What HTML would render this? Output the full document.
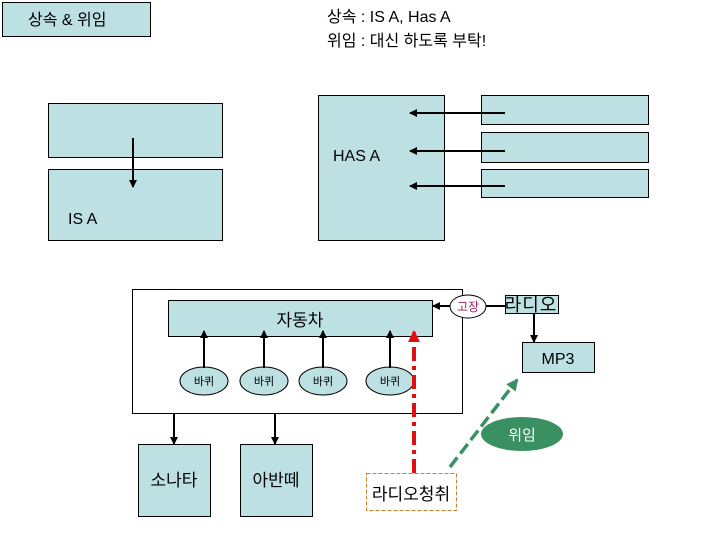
<!DOCTYPE html>
<html><head><meta charset="utf-8"><style>
html,body{margin:0;padding:0;background:#fff;}
svg{display:block;}
text{font-family:"Liberation Sans","Noto Sans CJK KR",sans-serif;}
</style></head><body>
<svg width="720" height="540" viewBox="0 0 720 540" xmlns="http://www.w3.org/2000/svg">
<defs>
<marker id="ah" markerWidth="8" markerHeight="8" refX="7" refY="4" orient="auto" markerUnits="userSpaceOnUse"><path d="M0,0 L8,4 L0,8 z" fill="#000"/></marker>
<marker id="ahr" markerWidth="12" markerHeight="12" refX="10" refY="6" orient="auto" markerUnits="userSpaceOnUse"><path d="M0,0 L12,6 L0,12 z" fill="#e01010"/></marker>
<marker id="ahg" markerWidth="12" markerHeight="12" refX="10" refY="6" orient="auto" markerUnits="userSpaceOnUse"><path d="M0,0 L12,6 L0,12 z" fill="#3a9060"/></marker>
</defs>
<g fill="#bde0e3" stroke="#000" stroke-width="1">
<rect x="2.5" y="2.5" width="148" height="34"/>
<rect x="48.5" y="103.5" width="174" height="54"/>
<rect x="48.5" y="169.5" width="174" height="71"/>
<rect x="318.5" y="95.5" width="126" height="145"/>
<rect x="481.5" y="95.5" width="167" height="29"/>
<rect x="481.5" y="132.5" width="167" height="30"/>
<rect x="481.5" y="169.5" width="167" height="28"/>
</g>
<g font-size="16" fill="#000">
<text x="28" y="25">상속 &amp; 위임</text>
<text x="327" y="22">상속 :  IS A, Has A</text>
<text x="327" y="46">위임 : 대신 하도록 부탁!</text>
<text x="68" y="224">IS A</text>
<text x="333" y="161">HAS A</text>
</g>
<g stroke="#000" stroke-width="2" fill="none" marker-end="url(#ah)">
<line x1="133" y1="138" x2="133" y2="187"/>
<line x1="505" y1="113" x2="410" y2="113"/>
<line x1="505" y1="151" x2="410" y2="151"/>
<line x1="505" y1="186" x2="410" y2="186"/>
</g>
<rect x="132.5" y="289.5" width="330" height="124" fill="#fff" stroke="#000"/>
<rect x="168.5" y="300.5" width="264" height="36" fill="#bde0e3" stroke="#000"/>
<text x="300" y="326" font-size="17" text-anchor="middle">자동차</text>
<g fill="#bde0e3" stroke="#000">
<ellipse cx="204" cy="381" rx="24" ry="14"/>
<ellipse cx="264" cy="381" rx="24" ry="14"/>
<ellipse cx="323" cy="381" rx="24" ry="14"/>
<ellipse cx="390" cy="381" rx="24" ry="14"/>
</g>
<g font-size="11" text-anchor="middle">
<text x="204" y="385">바퀴</text><text x="264" y="385">바퀴</text><text x="323" y="385">바퀴</text><text x="390" y="385">바퀴</text>
</g>
<g stroke="#000" stroke-width="2" fill="none" marker-end="url(#ah)">
<line x1="204" y1="368" x2="204" y2="331"/>
<line x1="264" y1="368" x2="264" y2="331"/>
<line x1="323" y1="368" x2="323" y2="331"/>
<line x1="390" y1="368" x2="390" y2="331"/>
<line x1="450" y1="306" x2="433" y2="306"/>
<line x1="534" y1="313" x2="534" y2="342"/>
<line x1="174" y1="413" x2="174" y2="444"/>
<line x1="275" y1="413" x2="275" y2="444"/>
</g>
<line x1="486" y1="306" x2="505" y2="306" stroke="#000" stroke-width="2"/>
<ellipse cx="468" cy="306.5" rx="18" ry="11.5" fill="#fff" stroke="#000"/>
<text x="468" y="311" font-size="12" fill="#a02060" text-anchor="middle">고장</text>
<rect x="505.5" y="295.5" width="53" height="18" fill="#bde0e3" stroke="#000"/>
<text x="531" y="311" font-size="18" text-anchor="middle" letter-spacing="1">라디오</text>
<rect x="522.5" y="342.5" width="72" height="30" fill="#bde0e3" stroke="#000"/>
<text x="558" y="364" font-size="16" text-anchor="middle">MP3</text>
<rect x="138.5" y="444.5" width="72" height="72" fill="#bde0e3" stroke="#000"/>
<rect x="240.5" y="444.5" width="72" height="72" fill="#bde0e3" stroke="#000"/>
<text x="174" y="486" font-size="17" text-anchor="middle">소나타</text>
<text x="276" y="486" font-size="17" text-anchor="middle">아반떼</text>
<line x1="414" y1="473" x2="414" y2="332" stroke="#e01010" stroke-width="4" stroke-dasharray="14,5,4,5" marker-end="url(#ahr)"/>
<line x1="450" y1="467" x2="517" y2="380" stroke="#3a9060" stroke-width="3.5" stroke-dasharray="12,5" marker-end="url(#ahg)"/>
<ellipse cx="522" cy="434" rx="41" ry="17" fill="#3a9060"/>
<text x="522" y="440" font-size="15" fill="#fff" text-anchor="middle">위임</text>
<rect x="366.5" y="473.5" width="90" height="37" fill="#fff" stroke="#d08030" stroke-dasharray="4,2"/>
<text x="411" y="500" font-size="17" text-anchor="middle">라디오청취</text>
</svg>
</body></html>
